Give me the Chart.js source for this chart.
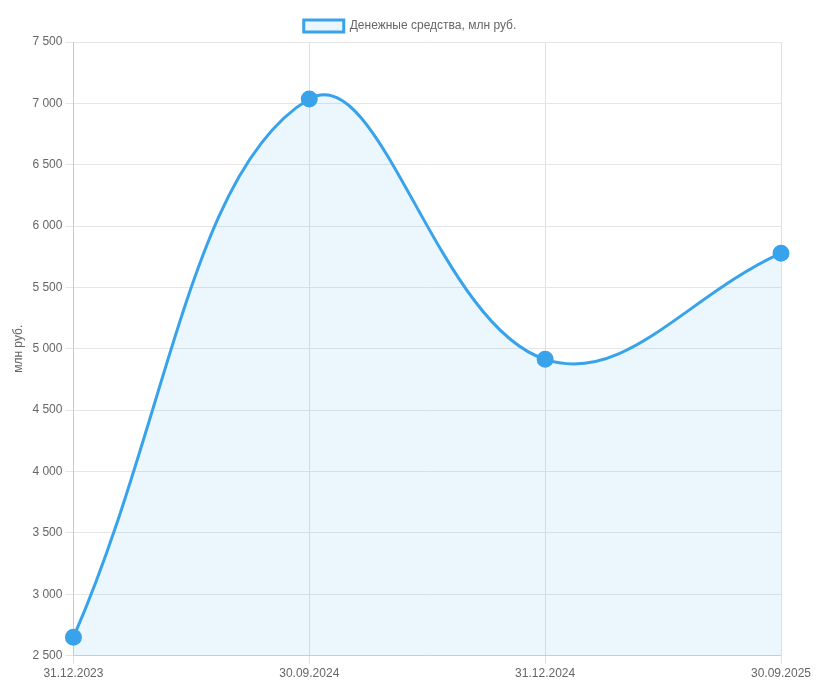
<!DOCTYPE html>
<html>
<head>
<meta charset="utf-8">
<script src="https://cdn.jsdelivr.net/npm/chart.js@4"></script>
<style>
  html, body { margin: 0; padding: 0; background: #fff; }
  .chart-wrap { width: 820px; height: 697px; position: relative; }
</style>
</head>
<body>
<div class="chart-wrap"><canvas id="cashChart"></canvas></div>
<script>
// Денежные средства по датам отчётности
const labels = ['31.12.2023', '30.09.2024', '31.12.2024', '30.09.2025'];
const cashValues = [2650, 7035, 4914, 5779];
const seriesName = 'Денежные средства, млн руб.';
const yMin = 2500;
const yMax = 7500;
const yStep = 500;

function fmt(v) {
  return String(v).replace(/\B(?=(\d{3})+(?!\d))/g, ' ');
}

Chart.defaults.font.family = 'Arial, "Liberation Sans", sans-serif';
Chart.defaults.font.size = 12;
Chart.defaults.color = '#666';

new Chart(document.getElementById('cashChart'), {
  type: 'line',
  data: {
    labels,
    datasets: [{
      label: seriesName,
      data: cashValues,
      borderColor: '#38a3eb',
      backgroundColor: 'rgba(54,162,235,0.1)',
      borderWidth: 3,
      fill: 'start',
      tension: 0.4,
      pointRadius: 7,
      pointHoverRadius: 7,
      pointBackgroundColor: '#38a3eb',
      pointBorderColor: '#38a3eb',
    }],
  },
  options: {
    responsive: true,
    maintainAspectRatio: false,
    animation: false,
    layout: { padding: { top: 10, right: 7, bottom: 13, left: 7 } },
    plugins: {
      legend: {
        position: 'top',
        labels: { boxWidth: 40, boxHeight: 12, font: { size: 12 } },
      },
      tooltip: { enabled: false },
    },
    scales: {
      x: {
        grid: { color: '#e0e0e0' },
        ticks: { maxRotation: 0, font: { size: 12 } },
        // extra room on the right, like the original page
        afterFit: s => { s.paddingRight = 39; },
      },
      y: {
        min: yMin,
        max: yMax,
        grid: { color: '#e6e6e6' },
        title: { display: true, text: 'млн руб.', font: { size: 12 } },
        ticks: { stepSize: yStep, callback: v => fmt(v), font: { size: 12 } },
      },
    },
  },
});
</script>
</body>
</html>
